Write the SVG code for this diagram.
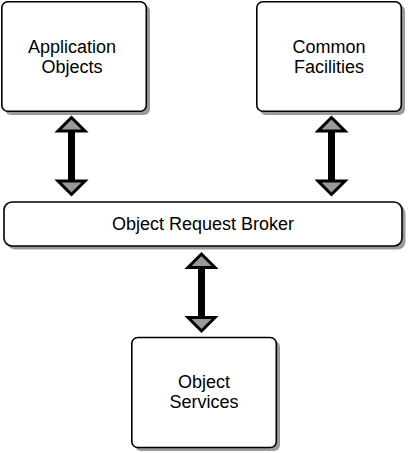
<svg xmlns="http://www.w3.org/2000/svg" width="410" height="453" viewBox="0 0 410 453">
<defs>
<style>
.box{fill:#fff;stroke:#000;stroke-width:1.6}
.shadow{fill:#9a9a9a}
.lbl{font-family:"Liberation Sans",Arial,sans-serif;font-size:18px;fill:#000;text-anchor:middle}
.shaft{stroke:#000;stroke-width:7;fill:none}
.head{fill:#999;stroke:#000;stroke-width:3;stroke-linejoin:miter}
</style>
</defs>
<rect width="410" height="453" fill="#fff"/>
<g id="connectors">
<g id="arrow-app-orb">
<line class="shaft" x1="71.5" y1="130" x2="71.5" y2="182"/>
<polygon class="head" points="71.5,117.5 58,131 85,131"/>
<polygon class="head" points="71.5,194.5 58,181 85,181"/>
</g>
<g id="arrow-cf-orb">
<line class="shaft" x1="331.5" y1="130" x2="331.5" y2="182"/>
<polygon class="head" points="331.5,117.5 318,131 345,131"/>
<polygon class="head" points="331.5,194.5 318,181 345,181"/>
</g>
<g id="arrow-orb-os">
<line class="shaft" x1="201.5" y1="267" x2="201.5" y2="318"/>
<polygon class="head" points="201.5,254 188,267.5 215,267.5"/>
<polygon class="head" points="201.5,331 188,317.5 215,317.5"/>
</g>
</g>
<g id="application-objects">
<rect class="shadow" x="5" y="5" width="145" height="110" rx="6"/>
<rect class="box" x="1.8" y="1.8" width="144.5" height="109.5" rx="6"/>
<text class="lbl" x="72" y="53">Application</text>
<text class="lbl" x="72" y="73">Objects</text>
</g>
<g id="common-facilities">
<rect class="shadow" x="260" y="5" width="145" height="110" rx="6"/>
<rect class="box" x="256.8" y="1.8" width="144.5" height="109.5" rx="6"/>
<text class="lbl" x="329" y="53">Common</text>
<text class="lbl" x="329" y="73">Facilities</text>
</g>
<g id="object-request-broker">
<rect class="shadow" x="7.5" y="205.5" width="398" height="44" rx="8"/>
<rect class="box" x="4" y="202" width="398" height="44" rx="8"/>
<text class="lbl" x="203" y="230">Object Request Broker</text>
</g>
<g id="object-services">
<rect class="shadow" x="135" y="341" width="145" height="110" rx="6"/>
<rect class="box" x="131.8" y="337.5" width="144.5" height="110" rx="6"/>
<text class="lbl" x="204" y="388">Object</text>
<text class="lbl" x="204" y="408">Services</text>
</g>
</svg>
